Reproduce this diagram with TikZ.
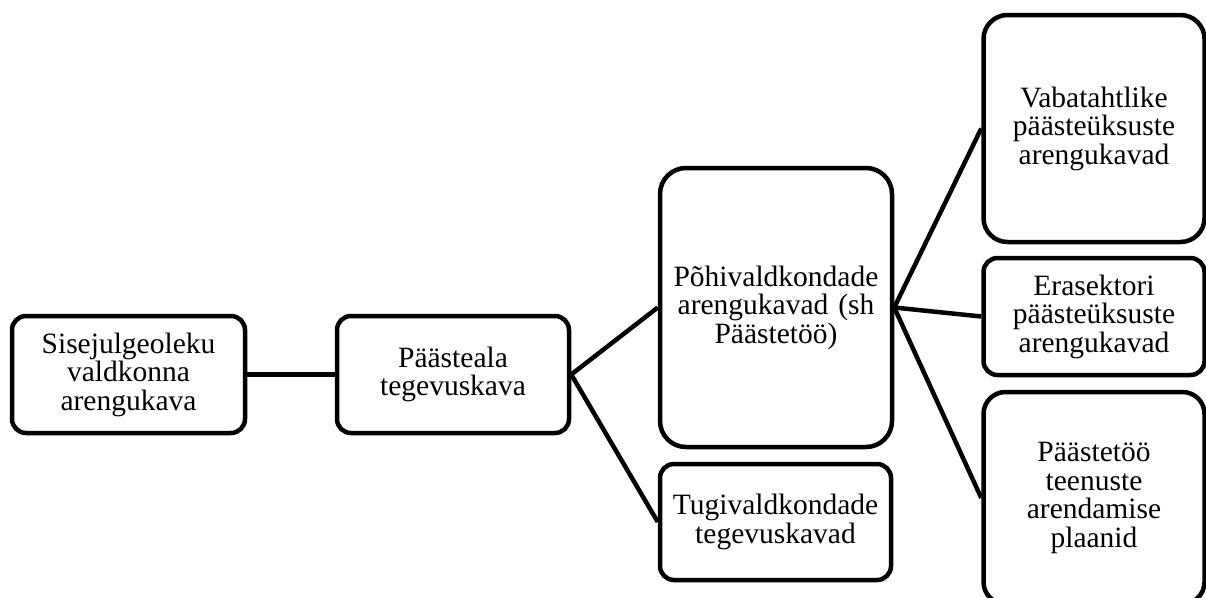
\documentclass[tikz,border=0pt]{standalone}
\usepackage{fontspec}
\setmainfont{Liberation Serif}
\begin{document}
\begin{tikzpicture}[x=1pt,y=-1pt,
  box/.style={draw=black, line width=4.5pt, fill=white, rounded corners=#1, inner sep=0pt, align=center,
    font=\fontsize{29.5}{28.5}\selectfont},
  box/.default=14pt,
  link/.style={line width=4.5pt, draw=black}]
\useasboundingbox (0,0) rectangle (1206,597);
\begin{scope}
\clip (0,0) rectangle (1206,597);
\node[box=14pt, minimum width=233pt, minimum height=117pt, text width=224pt] (b1) at (128.5,374.5) {Sisejulgeoleku\\valdkonna\\arengukava};
\node[box=14pt, minimum width=232pt, minimum height=117pt, text width=224pt] (b2) at (453,374.5) {Päästeala\\tegevuskava};
\node[box=26pt, minimum width=232pt, minimum height=279pt, text width=226pt] (b3) at (776,307.5) {Põhivaldkondade\\arengukavad (sh\\Päästetöö)};
\node[box=14pt, minimum width=231pt, minimum height=116pt, text width=226pt] (b4) at (775.5,522) {Tugivaldkondade\\tegevuskavad};
\node[box=24pt, minimum width=221pt, minimum height=227pt, text width=214pt] (b5) at (1094,128.5) {Vabatahtlike\\päästeüksuste\\arengukavad};
\node[box=14pt, minimum width=221pt, minimum height=117pt, text width=214pt] (b6) at (1094,316.5) {Erasektori\\päästeüksuste\\arengukavad};
\node[box=22pt, minimum width=221pt, minimum height=212pt, text width=214pt] (b7) at (1094,498) {Päästetöö\\teenuste\\arendamise\\plaanid};
\draw[link] (b1.east) -- (b2.west);
\draw[link] (b2.east) -- (b3.west);
\draw[link] (b2.east) -- (b4.west);
\draw[link] (b3.east) -- (b5.west);
\draw[link] (b3.east) -- (b6.west);
\draw[link] (b3.east) -- (b7.west);
\end{scope}
\end{tikzpicture}
\end{document}
